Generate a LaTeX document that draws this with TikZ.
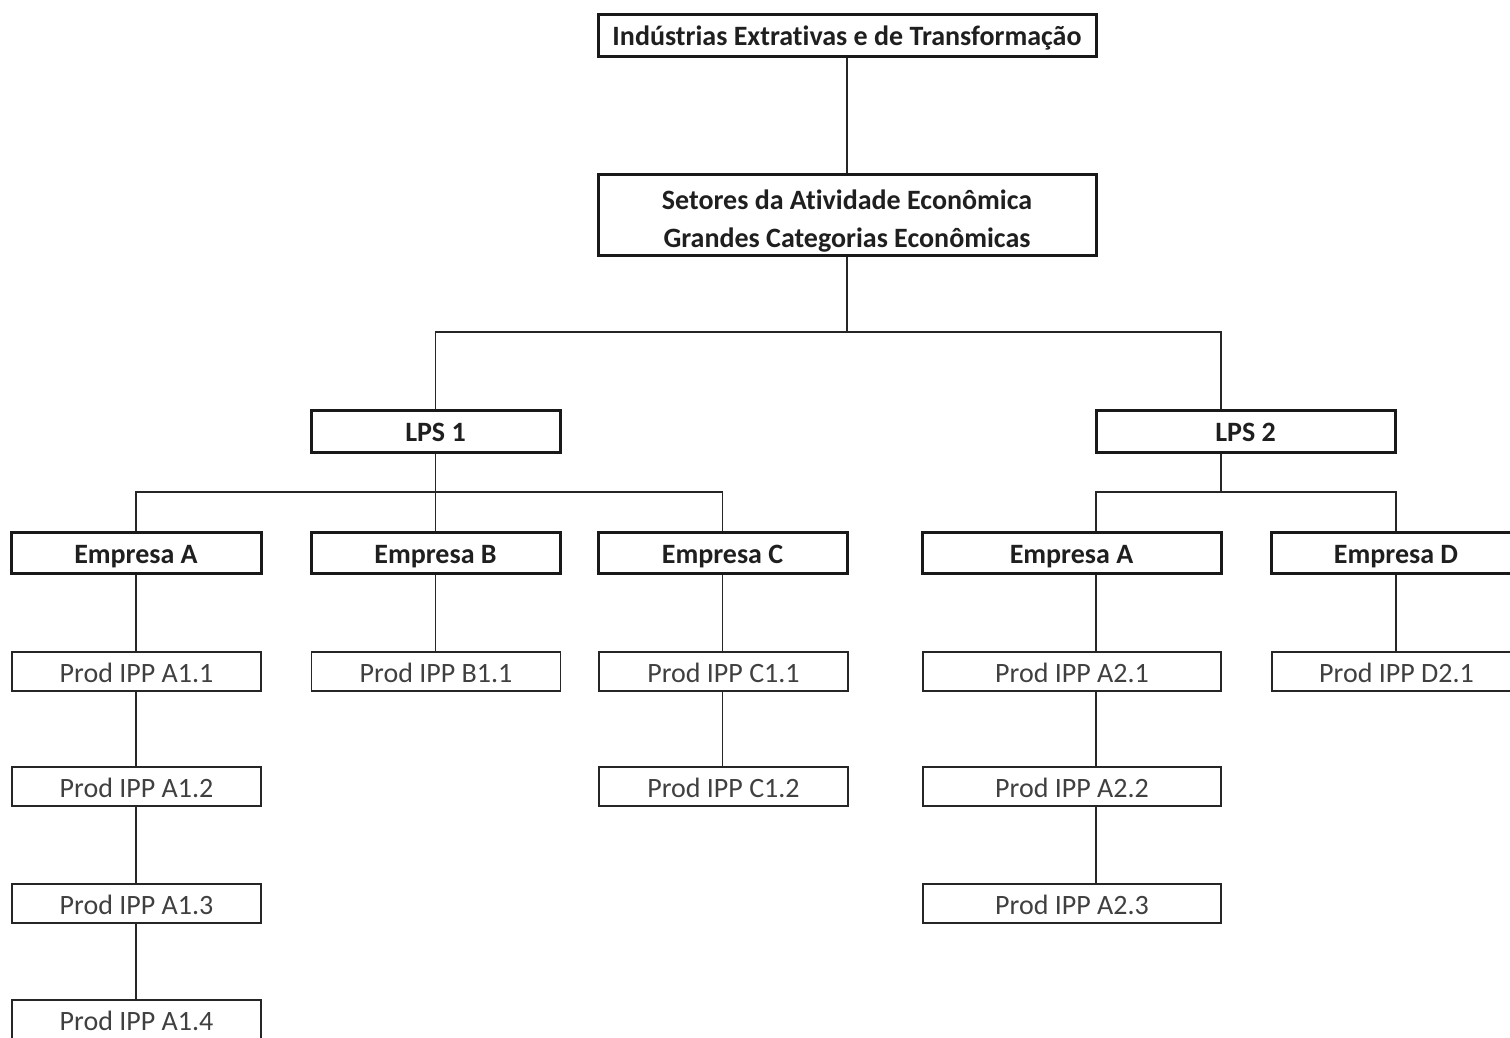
\documentclass[tikz,border=0pt]{standalone}
\usepackage{fontspec}
\setmainfont{Carlito}[Ligatures=NoCommon]
\begin{document}
\begin{tikzpicture}[x=1pt,y=-1pt,
  bbox/.style={draw=black!90,line width=3pt,inner sep=0pt,font=\bfseries\fontsize{28}{38}\selectfont,text=black!88,text height=23pt,text depth=2pt},
  pbox/.style={draw=black!85,line width=1.5pt,inner sep=0pt,minimum width=249pt,minimum height=39pt,font=\fontsize{28}{34}\selectfont,text=black!75,text height=23pt,text depth=2pt},
  conn/.style={draw=black!85,line width=1.6pt,line join=miter}]
\useasboundingbox (0,0) rectangle (1510,1037);
\clip (0,0) rectangle (1510,1037);
\fill[white] (0,0) rectangle (1510,1037);
% column coordinates
\coordinate (busA) at (847,332);
\coordinate (busB) at (0,492);
\coordinate (lpsR) at (1221,0);
\coordinate (colR) at (1096,0);
% top levels
\node[bbox,minimum width=498pt,minimum height=42pt] (top) at (847,35) {Indústrias Extrativas e de Transformação};
\node[bbox,minimum width=498pt,minimum height=81pt] (set) at (847,214.5) {};
\node[font=\bfseries\fontsize{28}{38}\selectfont,text=black!88,align=center,inner sep=0pt] (settxt) at (847,221) {Setores da Atividade Econômica\\Grandes Categorias Econômicas};
\node[bbox,minimum width=249pt,minimum height=42pt] (lps1) at (435.5,431) {LPS 1};
\node[bbox,minimum width=299pt,minimum height=42pt] (lps2) at (1245.5,431) {LPS 2};
% empresas
\node[bbox,minimum width=250pt,minimum height=41pt] (ea1) at (136,552.5) {Empresa A};
\node[bbox,minimum width=249pt,minimum height=41pt] (eb) at (435.5,552.5) {Empresa B};
\node[bbox,minimum width=249pt,minimum height=41pt] (ec) at (722.5,552.5) {Empresa C};
\node[bbox,minimum width=299pt,minimum height=41pt] (ea2) at (1071.5,552.5) {Empresa A};
\node[bbox,minimum width=250pt,minimum height=41pt] (ed) at (1396,552.5) {Empresa D};
% products
\node[pbox] (a11) at (136.5,671.5) {Prod IPP A1.1};
\node[pbox] (a12) at (136.5,786.5) {Prod IPP A1.2};
\node[pbox] (a13) at (136.5,903.5) {Prod IPP A1.3};
\node[pbox] (a14) at (136.5,1019.5) {Prod IPP A1.4};
\node[pbox] (b11) at (436,671.5) {Prod IPP B1.1};
\node[pbox] (c11) at (723.5,671.5) {Prod IPP C1.1};
\node[pbox] (c12) at (723.5,786.5) {Prod IPP C1.2};
\node[pbox,minimum width=298pt] (a21) at (1072,671.5) {Prod IPP A2.1};
\node[pbox,minimum width=298pt] (a22) at (1072,786.5) {Prod IPP A2.2};
\node[pbox,minimum width=298pt] (a23) at (1072,903.5) {Prod IPP A2.3};
\node[pbox] (d21) at (1396.5,671.5) {Prod IPP D2.1};
% connectors
\draw[conn] (top.south) -- (set.north);
\draw[conn] (set.south) -- (busA);
\draw[conn] (lps1.north) -- (lps1.north |- busA) -- (lpsR |- busA) -- (lps2.north -| lpsR);
\draw[conn] (lps1.south) -- (lps1.south |- busB);
\draw[conn] (ea1.north) -- (ea1.north |- busB) -- (ec.north |- busB) -- (ec.north);
\draw[conn] (eb.north) -- (eb.north |- busB);
\draw[conn] (lps2.south -| lpsR) -- (lpsR |- busB);
\draw[conn] (ea2.north -| colR) -- (colR |- busB) -- (ed.north |- busB) -- (ed.north);
\draw[conn] (ea1.south) -- (ea1.south |- a11.north);
\draw[conn] (a11.south -| ea1.south) -- (a12.north -| ea1.south);
\draw[conn] (a12.south -| ea1.south) -- (a13.north -| ea1.south);
\draw[conn] (a13.south -| ea1.south) -- (a14.north -| ea1.south);
\draw[conn] (eb.south) -- (eb.south |- b11.north);
\draw[conn] (ec.south) -- (ec.south |- c11.north);
\draw[conn] (c11.south -| ec.south) -- (c12.north -| ec.south);
\draw[conn] (ea2.south -| colR) -- (a21.north -| colR);
\draw[conn] (a21.south -| colR) -- (a22.north -| colR);
\draw[conn] (a22.south -| colR) -- (a23.north -| colR);
\draw[conn] (ed.south) -- (ed.south |- d21.north);
\end{tikzpicture}
\end{document}
